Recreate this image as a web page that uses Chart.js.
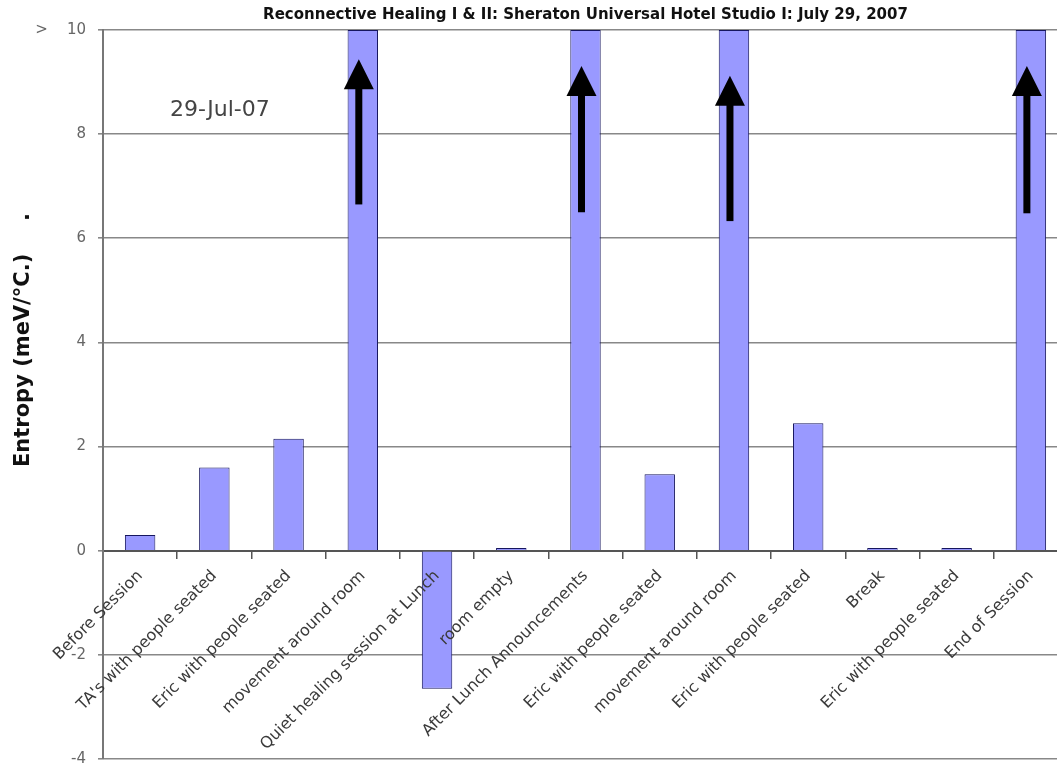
<!DOCTYPE html>
<html>
<head>
<meta charset="utf-8">
<script src="https://cdn.jsdelivr.net/npm/chart.js@4"></script>
<style>
  html, body { margin: 0; padding: 0; background: #fff; overflow: hidden; }
  #wrap { width: 1057px; height: 765px; overflow: hidden; }
</style>
</head>
<body>
<!-- el grafico original sale cortado por la derecha y abajo: canvas algo mas grande -->
<div id="wrap"><canvas id="myChart" width="1068" height="780"></canvas></div>
<script>
// DATOS
let categorias = ["Before Session", "TA's with people seated", "Eric with people seated",
	"movement around room", "Quiet healing session at Lunch", "room empty",
	"After Lunch Announcements", "Eric with people seated", "movement around room",
	"Eric with people seated", "Break", "Eric with people seated", "End of Session"];
// los valores > 10 salen cortados arriba
let entropia = [0.3, 1.6, 2.15, 10, -2.65, 0.05, 10, 1.47, 10, 2.45, 0.05, 0.05, 10];
let ticksY = [-4, -2, 0, 2, 4, 6, 8, 10];
// flechas dentro de las barras altas
let flechaIndice = [3, 6, 8, 12];
let flechaDesde = [6.65, 6.5, 6.33, 6.48];
let flechaHasta = [9.44, 9.31, 9.12, 9.31];

let titulo = "Reconnective Healing I & II: Sheraton Universal Hotel Studio I: July 29, 2007";
let tituloY = "Entropy (meV/°C.)";
let fecha = "29-Jul-07";

//plugin para flechas y textos sueltos
const extras = {
	id: 'extras',
	afterDatasetsDraw(chart){
		const ctx = chart.ctx;
		const x = chart.scales.x;
		const y = chart.scales.y;
		ctx.save();
		ctx.fillStyle = "#000";
		flechaIndice.forEach((ind, i) => {
			let px = x.getPixelForValue(ind) - 4;
			let y1 = y.getPixelForValue(flechaDesde[i]);
			let y2 = y.getPixelForValue(flechaHasta[i]);
			let cabeza = 30;
			ctx.fillRect(px - 3.5, y2 + cabeza - 2, 7, y1 - y2 - cabeza + 2);
			ctx.beginPath();
			ctx.moveTo(px, y2);
			ctx.lineTo(px - 15, y2 + cabeza);
			ctx.lineTo(px + 15, y2 + cabeza);
			ctx.closePath();
			ctx.fill();
		});
		ctx.restore();
	},
	afterDraw(chart){
		const ctx = chart.ctx;
		const x = chart.scales.x;
		const y = chart.scales.y;
		ctx.save();
		// fecha
		ctx.font = "22px 'DejaVu Sans'";
		ctx.fillStyle = "#444";
		ctx.textAlign = "left";
		ctx.textBaseline = "middle";
		ctx.fillText(fecha, x.getPixelForValue(0) + 30, y.getPixelForValue(8.45));
		// titulo eje Y
		ctx.translate(24, 467);
		ctx.rotate(-Math.PI / 2);
		ctx.font = "bold 21px 'DejaVu Sans'";
		ctx.fillStyle = "#111";
		ctx.textBaseline = "middle";
		ctx.fillText(tituloY, 0, 0);
		ctx.textAlign = "center";
		ctx.fillText(".", 250, 0);
		ctx.restore();
	}
};

const data = {
	labels: categorias,
	datasets: [{
		label: 'Entropy',
		data: entropia,
		backgroundColor: '#9999ff',
		borderColor: '#16165e',
		borderWidth: 1,
		barPercentage: 0.41,
		categoryPercentage: 1
	}]
};

const config = {
	type: 'bar',
	data: data,
	plugins: [extras],
	options: {
		responsive: false,
		animation: false,
		layout: { padding: 0 },
		plugins: {
			legend: { display: false },
			tooltip: { enabled: false },
			title: {
				display: true,
				text: titulo,
				fullSize: false,
				color: '#111',
				font: { family: 'DejaVu Sans', size: 15, weight: 'bold' },
				padding: { top: 6, bottom: 6 }
			}
		},
		scales: {
			x: {
				position: { y: 0 },
				offset: true,
				grid: { display: true, drawOnChartArea: false, drawTicks: true, tickLength: 7, offset: true, color: '#555', lineWidth: 1.5 },
				border: { display: true, color: '#555', width: 2 },
				ticks: {
					z: 1,
					autoSkip: false,
					maxRotation: 45,
					minRotation: 45,
					padding: 9,
					color: '#3a3a3a',
					font: { family: 'DejaVu Sans', size: 16 }
				}
			},
			y: {
				min: -4,
				max: 10,
				afterFit: s => { s.width = 103; },
				afterBuildTicks: s => { s.ticks = ticksY.map(v => ({ value: v })); },
				grid: { color: '#888', lineWidth: 1.6, tickLength: 5 },
				border: { display: true, color: '#777', width: 2 },
				ticks: {
					padding: 12,
					color: '#666',
					font: { family: 'DejaVu Sans', size: 15 },
					callback: v => v === 10 ? ">    10" : v
				}
			}
		}
	}
};

const myChart = new Chart(document.getElementById('myChart'), config);
</script>
</body>
</html>
